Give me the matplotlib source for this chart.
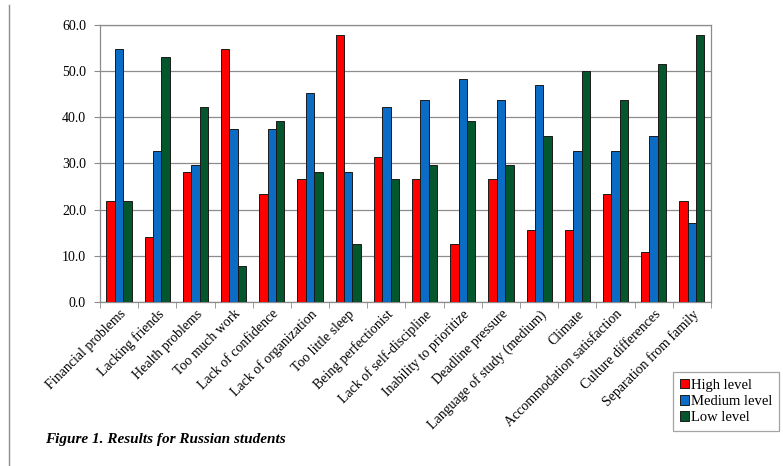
import numpy as np
import matplotlib
matplotlib.use("Agg")
import matplotlib.pyplot as plt
from matplotlib.lines import Line2D

plt.rcParams["font.family"] = ["Liberation Serif", "DejaVu Serif"]

categories = [
    "Financial problems", "Lacking friends", "Health problems", "Too much work",
    "Lack of confidence", "Lack of organization", "Too little sleep",
    "Being perfectionist", "Lack of self-discipline", "Inability to prioritize",
    "Deadline pressure", "Language of study (medium)", "Climate",
    "Accommodation satisfaction", "Culture differences", "Separation from family",
]
high = [21.9, 14.1, 28.1, 54.7, 23.4, 26.6, 57.8, 31.3, 26.6, 12.5, 26.6, 15.6, 15.6, 23.4, 10.9, 21.9]
medium = [54.7, 32.8, 29.7, 37.5, 37.5, 45.3, 28.1, 42.2, 43.8, 48.4, 43.8, 46.9, 32.8, 32.8, 35.9, 17.2]
low = [21.9, 53.1, 42.2, 7.8, 39.1, 28.1, 12.5, 26.6, 29.7, 39.1, 29.7, 35.9, 50.0, 43.8, 51.6, 57.8]
series = ["High level", "Medium level", "Low level"]
colors = ["#ff0000", "#0a6cc4", "#04572c"]

fig = plt.figure(figsize=(7.83, 4.66), dpi=100)
ax = fig.add_axes([0.1277, 0.352, 0.7803, 0.5944])

x = np.arange(len(categories))
w = 0.22
for i, (vals, name, c) in enumerate(zip([high, medium, low], series, colors)):
    ax.bar(x + (i - 1) * w, vals, width=w, color=c, edgecolor="#1a1a1a",
           linewidth=0.7, label=name, zorder=3)

ax.set_xlim(-0.5, len(categories) - 0.5)
ax.set_ylim(0, 60)
ax.set_yticks(np.arange(0, 61, 10))
ax.set_yticklabels([f"{v:.1f}" for v in np.arange(0, 61, 10)], fontsize=10)
ax.yaxis.grid(True, color="#8c8c8c", linewidth=0.9, zorder=0)

ax.set_xticks(x)
ax.set_xticklabels(categories, rotation=45, ha="right", rotation_mode="anchor", fontsize=10)
ax.tick_params(axis="x", length=0, pad=4)
ax.set_xticks(np.arange(-0.5, len(categories) + 0.5, 1), minor=True)
ax.tick_params(axis="x", which="minor", length=4, color="#8c8c8c")
ax.tick_params(axis="y", length=4, color="#8c8c8c", pad=6)

for s in ax.spines.values():
    s.set_color("#8c8c8c")
    s.set_linewidth(0.9)

handles = [plt.Rectangle((0, 0), 1, 1, facecolor=c, edgecolor="#1a1a1a", linewidth=0.7) for c in colors]
leg = fig.legend(handles, series, loc="upper left", bbox_to_anchor=(673 / 783, 1 - 372 / 466),
                 borderaxespad=0, fontsize=10.5, frameon=True, fancybox=False,
                 handlelength=0.65, handleheight=0.65, handletextpad=0.15,
                 borderpad=0.45, labelspacing=0.22)
leg.get_frame().set_edgecolor("#8c8c8c")
leg.get_frame().set_linewidth(0.9)

fig.text(45 / 783, 1 - 440 / 466, "Figure 1. Results for Russian students",
         fontsize=11, fontweight="bold", fontstyle="italic", va="center", ha="left")

fig.add_artist(Line2D([9 / 783, 9 / 783], [0, 1 - 5 / 466], color="#8c8c8c", linewidth=1))

fig.savefig("out.png", dpi=100)
